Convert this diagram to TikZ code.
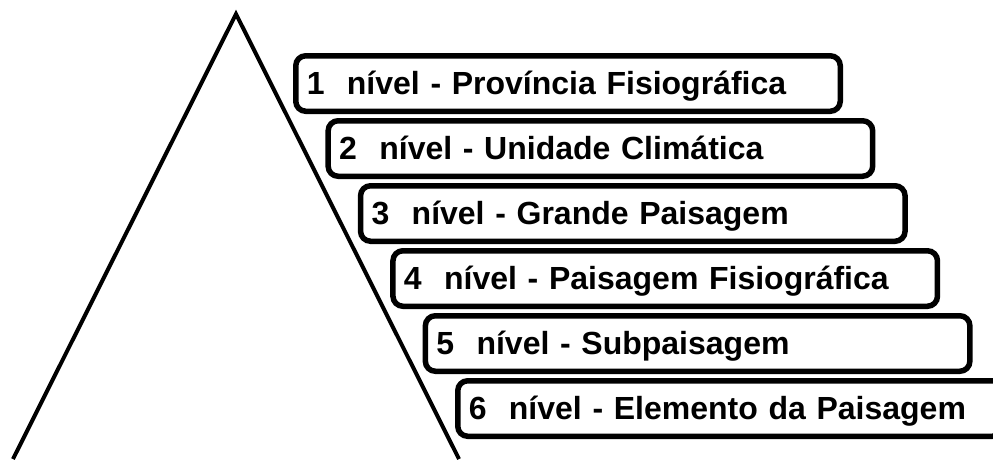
\documentclass[tikz,border=0pt]{standalone}
\usepackage{fontspec}
\setmainfont{Liberation Sans}
\usetikzlibrary{positioning}

\begin{document}
\begin{tikzpicture}[x=1pt,y=1pt,
	nivel/.style={draw,line width=5.5pt,rounded corners=10pt,fill=white,minimum width=544.5pt,minimum height=55.5pt,text width=522.5pt,inner xsep=11pt,align=left,text height=23pt,text depth=2pt,font=\fontsize{32}{36}\selectfont\bfseries}]
				\useasboundingbox (0,0) rectangle (993,-459);
				\coordinate (topo) at (236,-14);
				\coordinate (esq) at (13,-459);
				\coordinate (dir) at (459,-459);
				\draw[line width=4pt] (esq) -- (topo) -- (dir);

				\node[nivel,anchor=north west](prov) at (293,-53) {1\hspace{.7em}nível - Província Fisiográfica};
				\node[nivel,below=4pt of prov,xshift=32.4pt](clima) {2\hspace{.7em}nível - Unidade Climática};
				\node[nivel,below=4pt of clima,xshift=32.4pt](grande) {3\hspace{.7em}nível - Grande Paisagem};
				\node[nivel,below=4pt of grande,xshift=32.4pt](fisio) {4\hspace{.7em}nível - Paisagem Fisiográfica};
				\node[nivel,below=4pt of fisio,xshift=32.4pt](sub) {5\hspace{.7em}nível - Subpaisagem};
				\node[nivel,below=4pt of sub,xshift=32.4pt](elem) {6\hspace{.7em}nível - Elemento da Paisagem};

			\end{tikzpicture}
\end{document}
